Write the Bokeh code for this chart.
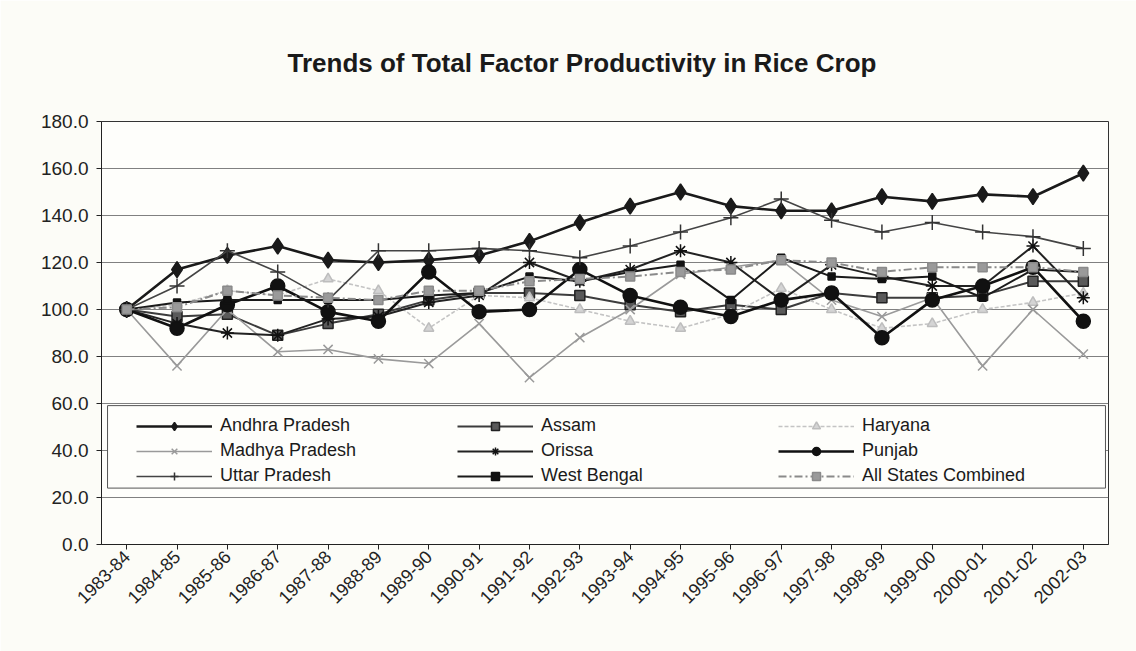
import math
from bokeh.plotting import figure
from bokeh.models import (FactorRange, Range1d, FixedTicker, NumeralTickFormatter, Legend,
                          LegendItem, BoxAnnotation)
from bokeh.embed import file_html
from bokeh.resources import INLINE

years = ["1983-84", "1984-85", "1985-86", "1986-87", "1987-88", "1988-89", "1989-90",
         "1990-91", "1991-92", "1992-93", "1993-94", "1994-95", "1995-96", "1996-97",
         "1997-98", "1998-99", "1999-00", "2000-01", "2001-02", "2002-03"]

andhra_pradesh = [100, 117, 123, 127, 121, 120, 121, 123, 129, 137, 144, 150, 144, 142, 142, 148, 146, 149, 148, 158]
assam = [100, 97, 98, 89, 94, 98, 104, 107, 107, 106, 102, 99, 102, 100, 107, 105, 105, 106, 112, 112]
haryana = [100, 102, 108, 106, 113, 108, 92, 106, 105, 100, 95, 92, 98, 109, 100, 92, 94, 100, 103, 107]
madhya_pradesh = [100, 76, 100, 82, 83, 79, 77, 94, 71, 88, 100, 115, 118, 121, 104, 97, 105, 76, 100, 81]
orissa = [100, 94, 90, 89, 96, 97, 103, 106, 120, 112, 117, 125, 120, 104, 119, 114, 110, 110, 127, 105]
punjab = [100, 92, 102, 110, 99, 95, 116, 99, 100, 117, 106, 101, 97, 104, 107, 88, 104, 110, 118, 95]
uttar_pradesh = [100, 110, 125, 116, 104, 125, 125, 126, 125, 122, 127, 133, 139, 147, 138, 133, 137, 133, 131, 126]
west_bengal = [100, 103, 104, 104, 104, 104, 106, 107, 114, 112, 116, 119, 104, 122, 114, 113, 114, 105, 117, 116]
all_states = [100, 101, 108, 106, 105, 104, 108, 108, 112, 113, 114, 116, 117, 121, 120, 116, 118, 118, 118, 116]

y_ticks = [0, 20, 40, 60, 80, 100, 120, 140, 160, 180]
title_text = "Trends of Total Factor Productivity in Rice Crop"

FONT = "Liberation Sans"

p = figure(width=1136, height=651,
           x_range=FactorRange(factors=years, range_padding=0),
           y_range=Range1d(0, 180),
           output_backend="svg", toolbar_location=None,
           min_border_left=101, min_border_right=28,
           min_border_top=121, min_border_bottom=107)

p.background_fill_color = "#fefefb"
p.border_fill_color = "#fcfcf7"
p.outline_line_color = "#333333"
p.outline_line_width = 1

p.title.text = title_text
p.title.text_font = FONT
p.title.text_font_size = "26px"
p.title.text_font_style = "bold"
p.title.text_color = "#1a1a1a"
p.title.align = "left"
p.title.offset = 186
p.title.standoff = 87

p.xgrid.grid_line_color = None
p.ygrid.grid_line_color = "#6a6a6a"
p.ygrid.grid_line_width = 1
p.ygrid.grid_line_alpha = 0.85

p.yaxis.ticker = FixedTicker(ticks=y_ticks)
p.yaxis.formatter = NumeralTickFormatter(format="0.0")
p.yaxis.major_label_text_font = FONT
p.yaxis.major_label_text_font_size = "19px"
p.yaxis.major_label_text_color = "#222222"
p.yaxis.major_label_standoff = 8
p.yaxis.minor_tick_line_color = None
p.yaxis.major_tick_in = 0
p.yaxis.major_tick_out = 5

p.xaxis.major_label_orientation = math.pi / 4
p.xaxis.major_label_text_font = FONT
p.xaxis.major_label_text_font_size = "18px"
p.xaxis.major_label_text_color = "#222222"
p.xaxis.major_tick_in = 0
p.xaxis.major_tick_out = 5
p.xaxis.major_label_standoff = 4

for ax in (p.xaxis, p.yaxis):
    ax.axis_line_color = "#222222"
    ax.major_tick_line_color = "#222222"

series = [
    ("Andhra Pradesh", andhra_pradesh, dict(color="#1a1a1a", width=2.6, dash="solid"),
     dict(marker="diamond", size=16, fill="#1a1a1a", line="#1a1a1a")),
    ("Assam", assam, dict(color="#3c3c3c", width=2.0, dash="solid"),
     dict(marker="square", size=10, fill="#5a5a5a", line="#222222")),
    ("Haryana", haryana, dict(color="#c4c4c4", width=1.6, dash="4 2"),
     dict(marker="triangle", size=10, fill="#d4d4d4", line="#bdbdbd")),
    ("Madhya Pradesh", madhya_pradesh, dict(color="#9a9a9a", width=1.6, dash="solid"),
     dict(marker="x", size=13, fill="#9a9a9a", line="#9a9a9a")),
    ("Orissa", orissa, dict(color="#222222", width=2.0, dash="solid"),
     dict(marker="asterisk", size=13, fill="#111111", line="#111111")),
    ("Punjab", punjab, dict(color="#111111", width=2.6, dash="solid"),
     dict(marker="circle", size=14, fill="#111111", line="#111111")),
    ("Uttar Pradesh", uttar_pradesh, dict(color="#444444", width=1.6, dash="solid"),
     dict(marker="cross", size=15, fill="#333333", line="#333333")),
    ("West Bengal", west_bengal, dict(color="#1a1a1a", width=2.0, dash="solid"),
     dict(marker="square", size=7, fill="#111111", line="#111111")),
    ("All States Combined", all_states, dict(color="#8a8a8a", width=2.0, dash="8 3 2 3"),
     dict(marker="square", size=9, fill="#9a9a9a", line="#8a8a8a")),
]

items = {}
for name, vals, ls, ms in series:
    r1 = p.line(years, vals, line_color=ls["color"], line_width=ls["width"],
                line_dash=ls["dash"], line_join="round")
    r2 = p.scatter(years, vals, marker=ms["marker"], size=ms["size"],
                   fill_color=ms["fill"], line_color=ms["line"], line_width=1.5)
    items[name] = LegendItem(label=name, renderers=[r1, r2])

# legend frame (drawn separately so the entries can sit further in)
p.add_layout(BoxAnnotation(left=0.12, right=19.94, bottom=24.0, top=59.1,
                           fill_color="#fefefb", fill_alpha=1.0,
                           line_color="#555555", line_width=1, line_alpha=1.0,
                           editable=False))

order = ["Andhra Pradesh", "Madhya Pradesh", "Uttar Pradesh",
         "Assam", "Orissa", "West Bengal",
         "Haryana", "Punjab", "All States Combined"]

legend = Legend(items=[items[k] for k in order], location=(35, 58),
                orientation="vertical", ncols=3,
                label_text_font=FONT, label_text_font_size="18px",
                label_text_color="#1a1a1a",
                glyph_width=76, glyph_height=20, label_height=20,
                label_width=233, label_standoff=8, spacing=4, padding=6,
                border_line_color=None, background_fill_alpha=0.0)
p.add_layout(legend)

open("out.html", "w").write(file_html(p, INLINE))
